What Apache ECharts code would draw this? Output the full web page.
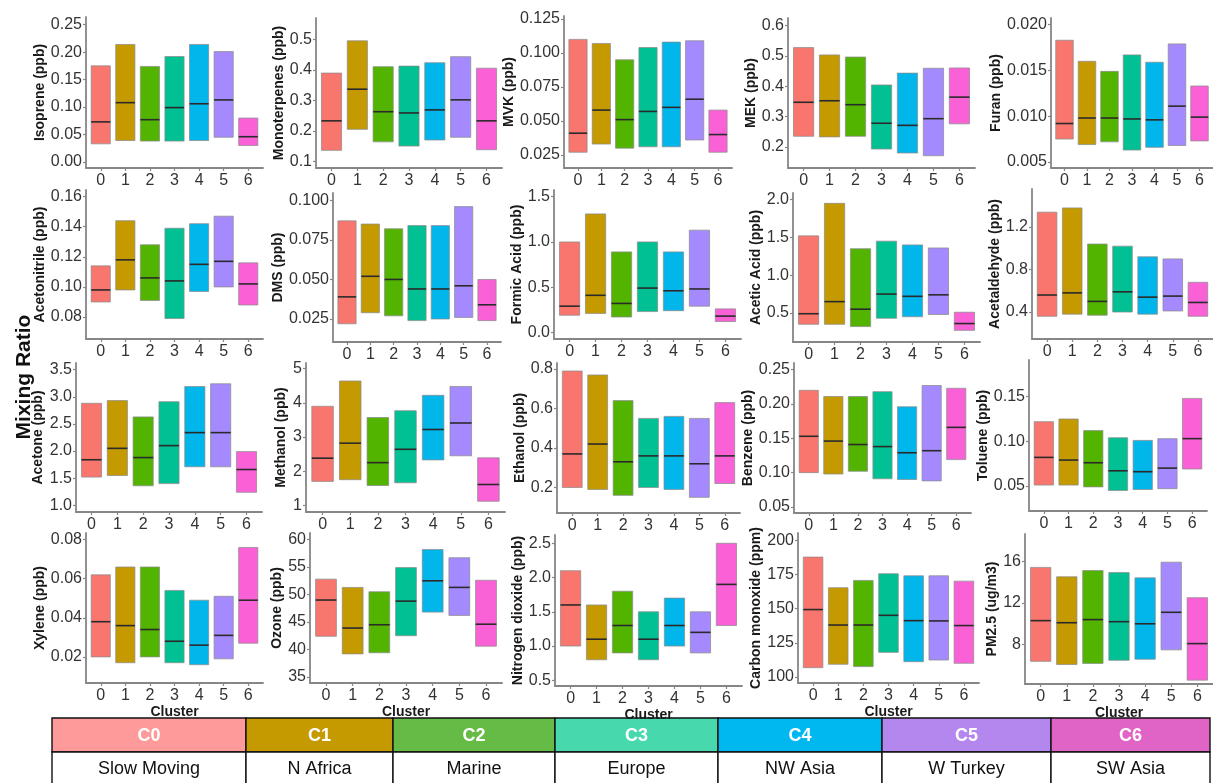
<!DOCTYPE html>
<html>
<head>
<meta charset="utf-8">
<title>Mixing ratios by air-mass cluster</title>
<script src="https://cdn.jsdelivr.net/npm/echarts@6/dist/echarts.min.js"></script>
<style>
  html, body { margin: 0; padding: 0; background: #ffffff; }
  #chart { width: 1213px; height: 783px; }
</style>
</head>
<body>
<div id="chart"></div>
<script>
// ---- categories ----
const clusters = ['0', '1', '2', '3', '4', '5', '6'];
const clusterCodes = ['C0', 'C1', 'C2', 'C3', 'C4', 'C5', 'C6'];
const clusterNames = ['Slow Moving', 'N Africa', 'Marine', 'Europe', 'NW Asia', 'W Turkey', 'SW Asia'];

// ---- values per cluster: [low, median, high] ----
const isoprene     = [[0.033,0.073,0.175],[0.039,0.108,0.214],[0.038,0.077,0.174],[0.038,0.099,0.192],[0.039,0.106,0.214],[0.045,0.113,0.201],[0.030,0.046,0.080]];
const monoterpenes = [[0.136,0.233,0.390],[0.205,0.337,0.496],[0.164,0.263,0.411],[0.150,0.259,0.413],[0.170,0.269,0.424],[0.179,0.302,0.444],[0.138,0.233,0.406]];
const mvk          = [[0.027,0.041,0.110],[0.033,0.058,0.107],[0.030,0.051,0.095],[0.031,0.057,0.104],[0.031,0.060,0.108],[0.036,0.066,0.109],[0.027,0.040,0.058]];
const mek          = [[0.235,0.347,0.527],[0.233,0.352,0.503],[0.235,0.339,0.496],[0.193,0.278,0.404],[0.180,0.271,0.443],[0.171,0.293,0.459],[0.276,0.364,0.460]];
const furan        = [[0.0075,0.0092,0.0183],[0.0069,0.0098,0.0160],[0.0072,0.0098,0.0149],[0.0063,0.0097,0.0167],[0.0066,0.0096,0.0159],[0.0068,0.0111,0.0179],[0.0073,0.0099,0.0133]];
const acetonitrile = [[0.090,0.098,0.114],[0.098,0.118,0.144],[0.091,0.106,0.128],[0.079,0.104,0.139],[0.097,0.115,0.142],[0.100,0.117,0.147],[0.088,0.102,0.116]];
const dms          = [[0.022,0.039,0.087],[0.029,0.052,0.085],[0.027,0.050,0.082],[0.024,0.044,0.084],[0.025,0.044,0.084],[0.026,0.046,0.096],[0.024,0.034,0.050]];
const formicAcid   = [[0.19,0.29,1.00],[0.21,0.41,1.31],[0.17,0.32,0.89],[0.23,0.49,1.00],[0.24,0.46,0.89],[0.29,0.48,1.13],[0.12,0.18,0.26]];
const aceticAcid   = [[0.35,0.49,1.52],[0.35,0.65,1.95],[0.32,0.55,1.35],[0.43,0.75,1.45],[0.45,0.72,1.40],[0.48,0.74,1.36],[0.27,0.36,0.51]];
const acetaldehyde = [[0.36,0.56,1.34],[0.38,0.58,1.38],[0.37,0.50,1.04],[0.40,0.59,1.02],[0.38,0.54,0.92],[0.41,0.55,0.90],[0.36,0.49,0.68]];
const acetone      = [[1.52,1.84,2.88],[1.55,2.05,2.93],[1.36,1.88,2.63],[1.40,2.10,2.91],[1.71,2.34,3.19],[1.71,2.34,3.24],[1.24,1.66,1.99]];
const methanol     = [[1.70,2.38,3.90],[1.75,2.82,4.64],[1.58,2.25,3.57],[1.66,2.64,3.77],[2.33,3.22,4.22],[2.45,3.41,4.48],[1.12,1.61,2.39]];
const ethanol      = [[0.20,0.37,0.79],[0.19,0.42,0.77],[0.16,0.33,0.64],[0.20,0.36,0.55],[0.19,0.36,0.56],[0.15,0.32,0.55],[0.22,0.36,0.63]];
const benzene      = [[0.100,0.153,0.220],[0.098,0.146,0.211],[0.102,0.141,0.211],[0.091,0.138,0.218],[0.090,0.129,0.196],[0.088,0.132,0.227],[0.119,0.166,0.223]];
const toluene      = [[0.051,0.082,0.122],[0.051,0.079,0.125],[0.049,0.076,0.112],[0.045,0.067,0.104],[0.046,0.066,0.101],[0.047,0.070,0.103],[0.069,0.103,0.148]];
const xylene       = [[0.020,0.038,0.062],[0.017,0.036,0.066],[0.020,0.034,0.066],[0.017,0.028,0.054],[0.016,0.026,0.049],[0.019,0.031,0.051],[0.027,0.049,0.076]];
const ozone        = [[42.4,49.0,52.8],[39.2,43.9,51.3],[39.4,44.5,50.5],[42.5,48.8,54.9],[46.8,52.5,58.2],[46.2,51.3,56.7],[40.6,44.6,52.6]];
const no2          = [[1.0,1.6,2.1],[0.8,1.1,1.6],[0.9,1.3,1.8],[0.8,1.1,1.5],[1.0,1.3,1.7],[0.9,1.2,1.5],[1.3,1.9,2.5]];
const carbonMonoxide = [[106.8,149.3,187.7],[109.3,138.0,165.3],[107.6,138.0,170.6],[118.0,145.1,175.5],[111.2,141.2,174.0],[112.4,141.0,174.0],[110.0,137.6,170.1]];
const pm25         = [[6.4,10.3,15.4],[6.1,10.1,14.5],[6.2,10.4,15.1],[6.5,10.2,14.9],[6.6,10.0,14.4],[7.5,11.1,15.9],[4.6,8.1,12.5]];

// ---- tick labels ----
const isopreneTicks     = ['0.00','0.05','0.10','0.15','0.20','0.25'];
const monoterpenesTicks = ['0.1','0.2','0.3','0.4','0.5'];
const mvkTicks          = ['0.025','0.050','0.075','0.100','0.125'];
const mekTicks          = ['0.2','0.3','0.4','0.5','0.6'];
const furanTicks        = ['0.005','0.010','0.015','0.020'];
const acetonitrileTicks = ['0.08','0.10','0.12','0.14','0.16'];
const dmsTicks          = ['0.025','0.050','0.075','0.100'];
const formicTicks       = ['0.0','0.5','1.0','1.5'];
const aceticTicks       = ['0.5','1.0','1.5','2.0'];
const acetaldehydeTicks = ['0.4','0.8','1.2'];
const acetoneTicks      = ['1.0','1.5','2.0','2.5','3.0','3.5'];
const methanolTicks     = ['1','2','3','4','5'];
const ethanolTicks      = ['0.2','0.4','0.6','0.8'];
const benzeneTicks      = ['0.05','0.10','0.15','0.20','0.25'];
const tolueneTicks      = ['0.05','0.10','0.15'];
const xyleneTicks       = ['0.02','0.04','0.06','0.08'];
const ozoneTicks        = ['35','40','45','50','55','60'];
const no2Ticks          = ['0.5','1.0','1.5','2.0','2.5'];
const coTicks           = ['100','125','150','175','200'];
const pm25Ticks         = ['8','12','16'];

// ---- colours ----
const boxColors = ['#F8766D', '#C49A00', '#53B400', '#00C094', '#00B6EB', '#A58AFF', '#FB61D7'];
const headerColors = ['#FF9A9A', '#C49A00', '#66BB47', '#47D8AD', '#00B8F0', '#B387EE', '#E063C6'];

const FONT = '"Liberation Sans", Arial, Helvetica, sans-serif';
const BOX_WIDTH = 0.78;

// panel layout: axis-line x (left/right), top, x-axis line y, y-range, title gap
const panels = [
  { title: 'Isoprene (ppb)',        data: isoprene,       ticks: isopreneTicks,     l: 86,   r: 263,  t: 17,  b: 168, min: -0.011, max: 0.264,  gap: 39 },
  { title: 'Monoterpenes (ppb)',    data: monoterpenes,   ticks: monoterpenesTicks, l: 316,  r: 502,  t: 18,  b: 168, min: 0.078,  max: 0.571,  gap: 29 },
  { title: 'MVK (ppb)',             data: mvk,            ticks: mvkTicks,          l: 564,  r: 732,  t: 16,  b: 168, min: 0.0154, max: 0.1272, gap: 47 },
  { title: 'MEK (ppb)',             data: mek,            ticks: mekTicks,          l: 788,  r: 975,  t: 18,  b: 168, min: 0.1306, max: 0.6245, gap: 30 },
  { title: 'Furan (ppb)',           data: furan,          ticks: furanTicks,        l: 1051, r: 1217, t: 18,  b: 168, min: 0.00434,max: 0.02073,gap: 48 },

  { title: 'Acetonitrile (ppb)',    data: acetonitrile,   ticks: acetonitrileTicks, l: 86,   r: 263,  t: 190, b: 339, min: 0.0654, max: 0.1644, gap: 39 },
  { title: 'DMS (ppb)',             data: dms,            ticks: dmsTicks,          l: 333,  r: 501,  t: 193, b: 342, min: 0.0105, max: 0.1046, gap: 46 },
  { title: 'Formic Acid (ppb)',     data: formicAcid,     ticks: formicTicks,       l: 554,  r: 741,  t: 190, b: 339, min: -0.073, max: 1.574,  gap: 27 },
  { title: 'Acetic Acid (ppb)',     data: aceticAcid,     ticks: aceticTicks,       l: 793,  r: 980,  t: 193, b: 342, min: 0.116,  max: 2.087,  gap: 30 },
  { title: 'Acetaldehyde (ppb)',    data: acetaldehyde,   ticks: acetaldehydeTicks, l: 1032, r: 1219, t: 189, b: 339, min: 0.146,  max: 1.558,  gap: 29 },

  { title: 'Acetone (ppb)',         data: acetone,        ticks: acetoneTicks,      l: 76,   r: 262,  t: 363, b: 512, min: 0.877,  max: 3.623,  gap: 31 },
  { title: 'Methanol (ppb)',        data: methanol,       ticks: methanolTicks,     l: 306,  r: 505,  t: 363, b: 512, min: 0.805,  max: 5.166,  gap: 18 },
  { title: 'Ethanol (ppb)',         data: ethanol,        ticks: ethanolTicks,      l: 557,  r: 740,  t: 363, b: 513, min: 0.0707, max: 0.8305, gap: 29 },
  { title: 'Benzene (ppb)',         data: benzene,        ticks: benzeneTicks,      l: 794,  r: 971,  t: 363, b: 513, min: 0.0412, max: 0.2598, gap: 38 },
  { title: 'Toluene (ppb)',         data: toluene,        ticks: tolueneTicks,      l: 1029, r: 1207, t: 360, b: 511, min: 0.022,  max: 0.191,  gap: 28 },

  { title: 'Xylene (ppb)',          data: xylene,         ticks: xyleneTicks,       l: 86,   r: 263,  t: 533, b: 683, min: 0.00663,max: 0.0834, gap: 39, cluster: true },
  { title: 'Ozone (ppb)',           data: ozone,          ticks: ozoneTicks,        l: 310,  r: 502,  t: 533, b: 683, min: 33.9,   max: 61.2,   gap: 24, cluster: true },
  { title: 'Nitrogen dioxide (ppb)',data: no2,            ticks: no2Ticks,          l: 555,  r: 742,  t: 535, b: 686, min: 0.417,  max: 2.621,  gap: 27, cluster: true },
  { title: 'Carbon monoxide (ppm)', data: carbonMonoxide, ticks: coTicks,           l: 798,  r: 979,  t: 533, b: 683, min: 95.6,   max: 205.3,  gap: 35, cluster: true },
  { title: 'PM2.5 (ug/m3)',         data: pm25,           ticks: pm25Ticks,         l: 1025, r: 1216, t: 534, b: 684, min: 4.23,   max: 18.6,   gap: 22, cluster: true }
];

const axisGrey = '#868686';

function tickFormatter(labels) {
  const vals = labels.map(parseFloat);
  return function (v) {
    let best = 0;
    for (let i = 1; i < vals.length; i++) {
      if (Math.abs(vals[i] - v) < Math.abs(vals[best] - v)) best = i;
    }
    return labels[best];
  };
}

function renderBox(params, api) {
  const x = api.value(0);
  const lo = api.value(1), md = api.value(2), hi = api.value(3);
  const half = BOX_WIDTH / 2;
  const tl = api.coord([x - half, hi]);
  const br = api.coord([x + half, lo]);
  const ml = api.coord([x - half, md]);
  const mr = api.coord([x + half, md]);
  return {
    type: 'group',
    children: [
      {
        type: 'rect',
        shape: { x: tl[0], y: tl[1], width: br[0] - tl[0], height: br[1] - tl[1] },
        style: { fill: boxColors[params.dataIndex], stroke: 'rgba(140,140,140,0.75)', lineWidth: 1 }
      },
      {
        type: 'line',
        shape: { x1: ml[0], y1: ml[1], x2: mr[0], y2: mr[1] },
        style: { stroke: '#2a2a2a', lineWidth: 1.6 }
      }
    ]
  };
}

const grid = [], xAxis = [], yAxis = [], series = [];
const clusterIdx = clusters.map(Number);

panels.forEach((p, k) => {
  grid.push({ left: p.l, top: p.t, width: p.r - p.l, height: p.b - p.t, containLabel: false });
  xAxis.push({
    gridIndex: k, type: 'value', min: -0.6, max: 6.6,
    axisLine: { show: true, onZero: false, lineStyle: { color: axisGrey, width: 1.8 } },
    axisTick: { show: true, length: 3, customValues: clusterIdx, lineStyle: { color: axisGrey, width: 1.2 } },
    axisLabel: {
      customValues: clusterIdx, formatter: v => clusters[Math.round(v)],
      color: '#333', fontSize: 16, fontFamily: FONT, margin: 5
    },
    splitLine: { show: false },
    name: p.cluster ? 'Cluster' : '', nameLocation: 'middle', nameGap: 18,
    nameTextStyle: { fontWeight: 'bold', fontSize: 14, color: '#1a1a1a', fontFamily: FONT }
  });
  const tickVals = p.ticks.map(parseFloat);
  yAxis.push({
    gridIndex: k, type: 'value', min: p.min, max: p.max,
    axisLine: { show: true, onZero: false, lineStyle: { color: axisGrey, width: 1.8 } },
    axisTick: { show: true, length: 3, customValues: tickVals, lineStyle: { color: axisGrey, width: 1.2 } },
    axisLabel: {
      customValues: tickVals, formatter: tickFormatter(p.ticks),
      color: '#333', fontSize: 16, fontFamily: FONT, margin: 4
    },
    splitLine: { show: false },
    name: p.title, nameLocation: 'middle', nameGap: p.gap,
    nameTextStyle: { fontWeight: 'bold', fontSize: 14, color: '#1a1a1a', fontFamily: FONT }
  });
  series.push({
    type: 'custom', xAxisIndex: k, yAxisIndex: k,
    renderItem: renderBox,
    encode: { x: 0, y: [1, 2, 3] },
    data: p.data.map((d, i) => [clusterIdx[i], d[0], d[1], d[2]]),
    silent: true
  });
});

// legend table under the panels
const colEdges = [52, 246, 393, 555, 718, 882, 1051, 1210];
const headTop = 718, headBottom = 752, bodyBottom = 792;
const tableEls = [];
clusterCodes.forEach((code, i) => {
  const x0 = colEdges[i], x1 = colEdges[i + 1];
  tableEls.push({
    type: 'rect', shape: { x: x0, y: headTop, width: x1 - x0, height: headBottom - headTop },
    style: { fill: headerColors[i], stroke: '#111', lineWidth: 1.4 }
  });
  tableEls.push({
    type: 'rect', shape: { x: x0, y: headBottom, width: x1 - x0, height: bodyBottom - headBottom },
    style: { fill: '#ffffff', stroke: '#111', lineWidth: 1.4 }
  });
  tableEls.push({
    type: 'text', x: (x0 + x1) / 2, y: (headTop + headBottom) / 2 + 1,
    style: { text: code, fill: '#ffffff', font: 'bold 18px ' + FONT, textAlign: 'center', textVerticalAlign: 'middle' }
  });
  tableEls.push({
    type: 'text', x: (x0 + x1) / 2, y: 769,
    style: { text: clusterNames[i], fill: '#111', font: '18px ' + FONT, textAlign: 'center', textVerticalAlign: 'middle' }
  });
});

const option = {
  backgroundColor: '#ffffff',
  animation: false,
  grid, xAxis, yAxis, series,
  graphic: [
    {
      type: 'text', x: 24, y: 377, rotation: Math.PI / 2,
      style: { text: 'Mixing Ratio', fill: '#111', font: 'bold 21px ' + FONT, textAlign: 'center', textVerticalAlign: 'middle' }
    },
    { type: 'group', children: tableEls }
  ]
};

const chart = echarts.init(document.getElementById('chart'), null, { renderer: 'canvas' });
chart.setOption(option);
</script>
</body>
</html>
